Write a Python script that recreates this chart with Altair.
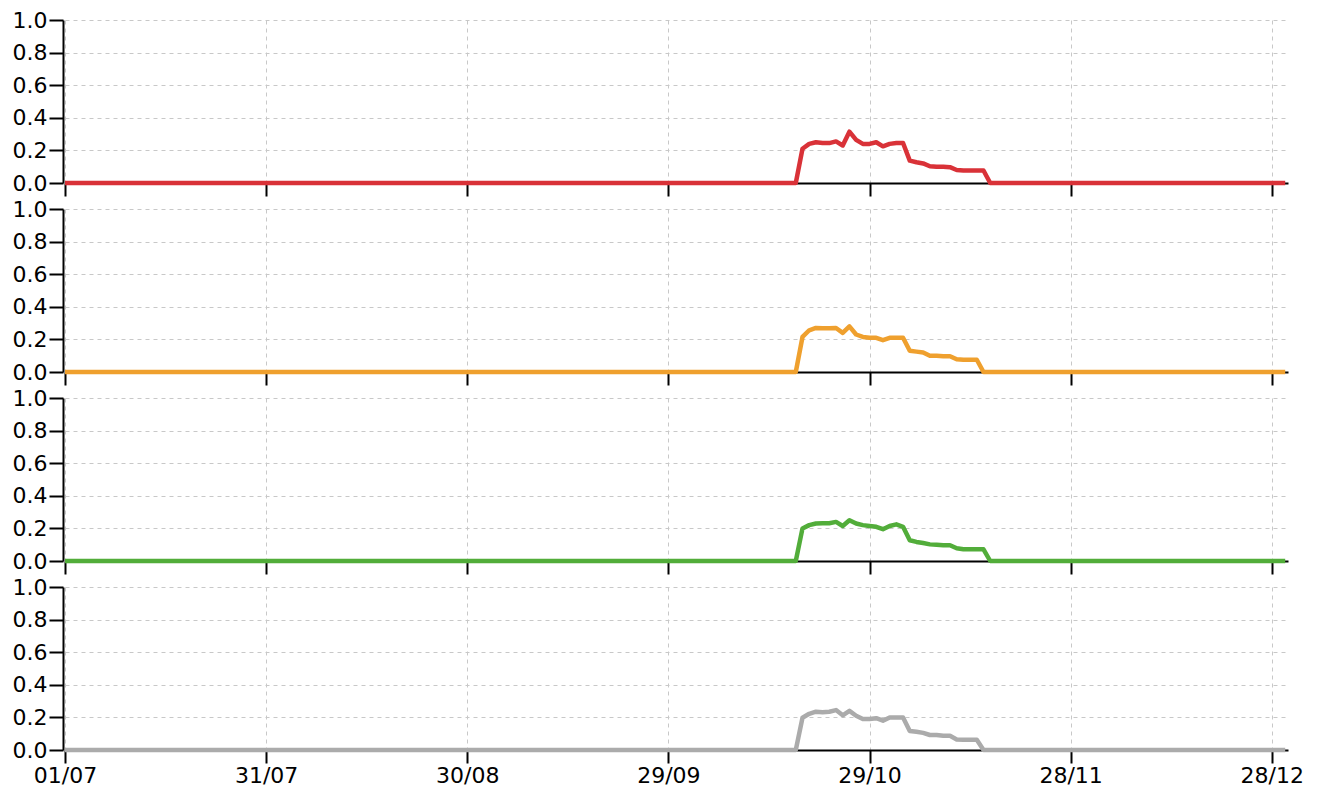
import altair as alt
import pandas as pd

# ---- data ----
start_date = "2024-07-01"
n_days = 183                      # 01/07 .. 30/12, daily
series_names = ["A", "B", "C", "D"]
series_colors = ["#d93238", "#efa02e", "#52ad3a", "#ababab"]
onset_day = 110                   # first non-zero day (19/10)

red_vals = [0.21, 0.24, 0.25, 0.245, 0.245, 0.255, 0.23, 0.315, 0.265, 0.24,
            0.24, 0.25, 0.225, 0.24, 0.245, 0.245, 0.137, 0.127, 0.12, 0.103,
            0.10, 0.10, 0.097, 0.08, 0.077, 0.077, 0.077, 0.077]
orange_vals = [0.215, 0.256, 0.27, 0.268, 0.268, 0.27, 0.24, 0.28, 0.23, 0.215,
               0.21, 0.21, 0.195, 0.21, 0.21, 0.21, 0.13, 0.125, 0.12, 0.10,
               0.10, 0.097, 0.097, 0.078, 0.075, 0.075, 0.075]
green_vals = [0.20, 0.22, 0.23, 0.232, 0.232, 0.24, 0.215, 0.25, 0.23, 0.22,
              0.215, 0.21, 0.195, 0.215, 0.225, 0.21, 0.127, 0.117, 0.11, 0.102,
              0.10, 0.097, 0.097, 0.078, 0.072, 0.072, 0.072, 0.072]
gray_vals = [0.198, 0.222, 0.235, 0.232, 0.235, 0.245, 0.213, 0.24, 0.21, 0.19,
             0.19, 0.195, 0.18, 0.20, 0.20, 0.20, 0.117, 0.112, 0.105, 0.092,
             0.092, 0.087, 0.087, 0.065, 0.063, 0.063, 0.063]
all_vals = [red_vals, orange_vals, green_vals, gray_vals]

x_tick_dates = [(2024, 7, 1), (2024, 7, 31), (2024, 8, 30), (2024, 9, 29),
                (2024, 10, 29), (2024, 11, 28), (2024, 12, 28)]
y_ticks = [0.0, 0.2, 0.4, 0.6, 0.8, 1.0]

dates = pd.date_range(start_date, periods=n_days, freq="D")
date_str = [d.strftime("%Y-%m-%d") for d in dates]

x_domain = [alt.DateTime(year=2024, month=7, date=1, utc=True),
            alt.DateTime(year=2024, month=12, date=30, hours=10, utc=True)]
x_values = [alt.DateTime(year=y, month=m, date=d, utc=True) for (y, m, d) in x_tick_dates]

W, H = 1223, 163

panels = []
for i, (name, color, vals) in enumerate(zip(series_names, series_colors, all_vals)):
    v = [0.0] * n_days
    for k, val in enumerate(vals):
        v[onset_day + k] = val
    df = pd.DataFrame({"date": date_str, "value": v})
    last = i == len(series_names) - 1
    ch = alt.Chart(df).mark_line(color=color, strokeWidth=4.5, strokeJoin="round").encode(
        x=alt.X("date:T",
                scale=alt.Scale(type="utc", domain=x_domain, nice=False),
                axis=alt.Axis(values=x_values,
                              labelExpr="utcFormat(datum.value, '%d/%m')",
                              labels=last, title=None, tickSize=13, labelPadding=2,
                              labelFlush=False, labelOverlap=False)),
        y=alt.Y("value:Q",
                scale=alt.Scale(domain=[0, 1], nice=False, zero=True),
                axis=alt.Axis(values=y_ticks, format=".1f", title=None,
                              tickSize=14, labelPadding=2, offset=2)),
    ).properties(width=W, height=H)
    panels.append(ch)

chart = alt.vconcat(*panels, spacing=26, bounds="flush").properties(
    padding={"left": 4, "top": 1, "right": 5, "bottom": 3}
).configure_view(stroke=None).configure_axis(
    domainColor="black", domainWidth=2, tickColor="black", tickWidth=2,
    labelColor="black", labelFont="DejaVu Sans", labelFontSize=22,
    grid=True, gridColor="#c8c8c8", gridDash=[4, 4], gridWidth=1,
)

chart.save("out.html", embed_options={"renderer": "svg", "actions": False})
